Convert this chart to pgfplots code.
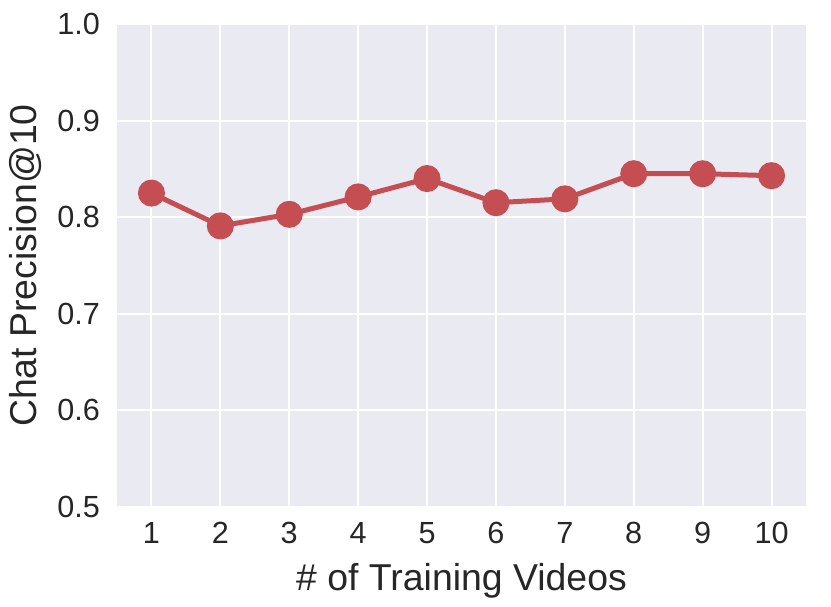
\documentclass[border=0pt]{standalone}
\usepackage{pgfplots}
\pgfplotsset{compat=1.18}
\usepackage{fontspec}
\setmainfont{Liberation Sans}
\definecolor{bgc}{HTML}{EAEAF2}
\definecolor{linec}{HTML}{C44E52}
\definecolor{txt}{HTML}{262626}
\begin{document}
\begin{tikzpicture}
\path[use as bounding box] (-58.5pt,-49.5pt) rectangle (357pt,253.5pt);
\begin{axis}[
    at={(0pt,0pt)}, anchor=south west,
    scale only axis,
    width=344.5pt,
    height=241.5pt,
    xmin=0.5, xmax=10.5,
    ymin=0.5, ymax=1.0,
    xtick={1,...,10},
    ytick={0.5,0.6,0.7,0.8,0.9,1.0},
    yticklabel style={/pgf/number format/fixed,/pgf/number format/fixed zerofill,/pgf/number format/precision=1, xshift=-5pt},
    xticklabel style={yshift=-4pt},
    /pgf/number format/assume math mode=true,
    axis background/.style={fill=bgc},
    axis line style={draw=none},
    major tick length=0pt,
    grid=major,
    major grid style={white, line width=1pt},
    tick label style={font=\fontsize{15.3}{17}\selectfont, text=txt},
    label style={font=\fontsize{18.7}{21}\selectfont, text=txt},
    xlabel={\# of Training Videos},
    ylabel={Chat Precision@10},
    xlabel style={yshift=-3pt},
    ylabel style={yshift=1pt},
]
\addplot[color=linec, line width=2.5pt, mark=*, mark size=5.5pt, mark options={fill=linec, draw=linec}]
coordinates {(1,0.825) (2,0.791) (3,0.803) (4,0.821) (5,0.840) (6,0.815) (7,0.819) (8,0.845) (9,0.845) (10,0.843)};
\end{axis}
\end{tikzpicture}
\end{document}
